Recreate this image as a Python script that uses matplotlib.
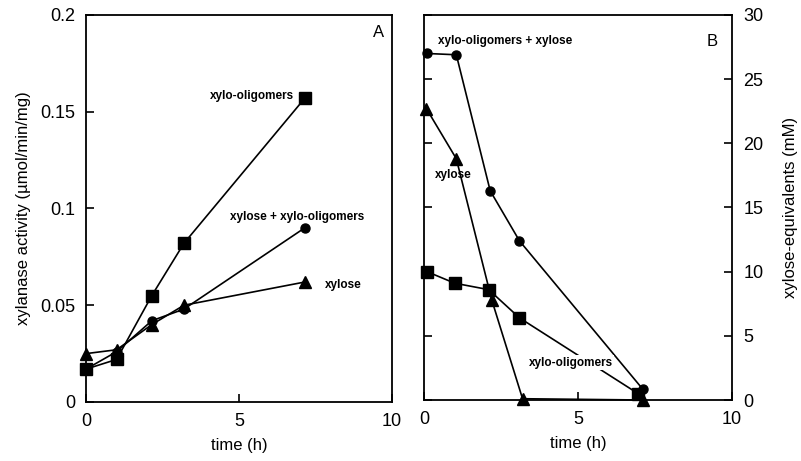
import matplotlib
matplotlib.use('Agg')
import matplotlib.pyplot as plt

plt.rcParams['font.family'] = ['Liberation Sans', 'DejaVu Sans']

# panel A: xylanase activity (umol/min/mg) vs time (h)
a_time = [0, 1.0, 2.15, 3.2, 7.15]
a_oligo = [0.017, 0.022, 0.055, 0.082, 0.157]
a_mix = [0.017, 0.026, 0.042, 0.048, 0.090]
a_xylose = [0.025, 0.027, 0.040, 0.050, 0.062]

# panel B: xylose-equivalents (mM) vs time (h)
b_mix_t = [0.1, 1.05, 2.15, 3.1, 7.1]
b_mix = [27.0, 26.9, 16.3, 12.4, 0.85]
b_xyl_t = [0.08, 1.05, 2.2, 3.2, 7.1]
b_xyl = [22.7, 18.8, 7.8, 0.1, 0.0]
b_oligo_t = [0.1, 1.0, 2.1, 3.1, 6.95]
b_oligo = [10.0, 9.1, 8.6, 6.4, 0.5]

fig = plt.figure(figsize=(8.01, 4.61), dpi=100)
axA = fig.add_axes([0.1074, 0.128, 0.382, 0.8395])
axB = fig.add_axes([0.5293, 0.1323, 0.3846, 0.8352])

lw = 1.2
axA.plot(a_time, a_oligo, color='black', lw=lw, marker='s', ms=9, clip_on=False, zorder=3)
axA.plot(a_time, a_mix, color='black', lw=lw, marker='o', ms=6.5, clip_on=False, zorder=3)
axA.plot(a_time, a_xylose, color='black', lw=lw, marker='^', ms=8, clip_on=False, zorder=3)

axA.set_xlim(0, 10)
axA.set_ylim(0, 0.2)
axA.set_xticks([0, 5, 10])
axA.set_xticklabels(['0', '5', '10'])
axA.set_yticks([0, 0.05, 0.1, 0.15, 0.2])
axA.set_yticklabels(['0', '0.05', '0.1', '0.15', '0.2'])
axA.tick_params(direction='in', length=6, width=1.2, labelsize=13, pad=8)
axA.set_xlabel('time (h)', fontsize=12, labelpad=6)
axA.set_ylabel('xylanase activity (µmol/min/mg)', fontsize=12, labelpad=6)
axA.text(0.955, 0.955, 'A', transform=axA.transAxes, fontsize=12, ha='center', va='center')
axA.text(4.05, 0.158, 'xylo-oligomers', fontsize=8.5, fontweight='bold', ha='left', va='center')
axA.text(4.7, 0.0955, 'xylose + xylo-oligomers', fontsize=8.5, fontweight='bold', ha='left', va='center')
axA.text(7.8, 0.0605, 'xylose', fontsize=8.5, fontweight='bold', ha='left', va='center')

axB.plot(b_mix_t, b_mix, color='black', lw=lw, marker='o', ms=6.5, clip_on=False, zorder=3)
axB.plot(b_xyl_t, b_xyl, color='black', lw=lw, marker='^', ms=8, clip_on=False, zorder=3)
axB.plot(b_oligo_t, b_oligo, color='black', lw=lw, marker='s', ms=9, clip_on=False, zorder=3)

axB.set_xlim(0, 10)
axB.set_ylim(0, 30)
axB.set_xticks([0, 5, 10])
axB.set_xticklabels(['0', '5', '10'])
axB.set_yticks([0, 5, 10, 15, 20, 25, 30])
axB.tick_params(direction='in', length=6, width=1.2, labelsize=13, pad=8,
                left=True, right=True, labelleft=False, labelright=True)
axB.yaxis.set_label_position('right')
axB.set_xlabel('time (h)', fontsize=12, labelpad=6)
axB.set_ylabel('xylose-equivalents (mM)', fontsize=12, labelpad=14)
axB.text(0.935, 0.93, 'B', transform=axB.transAxes, fontsize=12, ha='center', va='center')
axB.text(0.45, 28.0, 'xylo-oligomers + xylose', fontsize=8.5, fontweight='bold', ha='left', va='center')
axB.text(0.35, 17.5, 'xylose', fontsize=8.5, fontweight='bold', ha='left', va='center', zorder=4)
axB.text(3.4, 2.9, 'xylo-oligomers', fontsize=8.5, fontweight='bold', ha='left', va='center',
         zorder=4, bbox=dict(facecolor='white', edgecolor='none', pad=1))

for ax in (axA, axB):
    for s in ax.spines.values():
        s.set_linewidth(1.3)

fig.savefig('out.png', dpi=100)
